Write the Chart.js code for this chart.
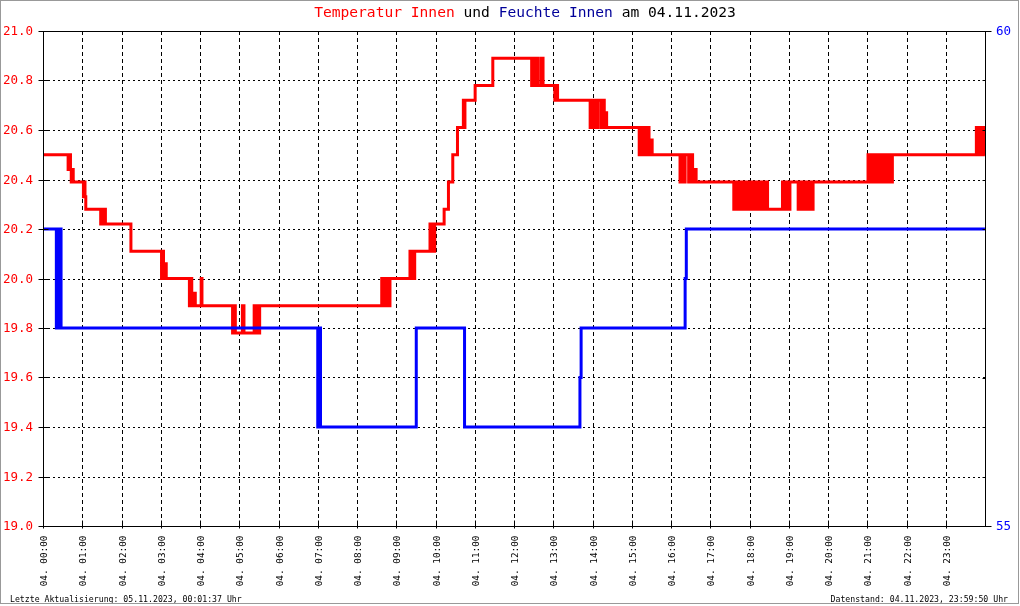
<!DOCTYPE html>
<html>
<head>
<meta charset="utf-8">
<script src="https://cdn.jsdelivr.net/npm/chart.js@4.4.1/dist/chart.umd.min.js"></script>
<style>
html,body{margin:0;padding:0;background:#fff;}
canvas{display:block;}
</style>
</head>
<body>
<canvas id="c" width="1020" height="606"></canvas>
<script>
// ---- Data (hours since 04.11.2023 00:00) ----
const tempHours = [
  0.00, 0.64, 0.67, 0.70, 0.72, 0.75, 0.77,
  1.03, 1.05, 1.07, 1.09,
  1.47, 1.50, 1.54, 1.57, 1.59,
  2.24,
  3.02, 3.05, 3.07, 3.10, 3.12, 3.14,
  3.73, 3.76, 3.79, 3.82, 3.85, 3.88, 4.03, 4.05,
  4.83, 4.87, 4.90, 5.08, 5.12, 5.38, 5.41, 5.44, 5.47, 5.52, 5.58,
  8.63, 8.66, 8.70, 8.73, 8.77, 8.80, 8.84,
  9.35, 9.38, 9.42, 9.45, 9.47,
  9.86, 9.88, 9.90, 9.96, 9.98,
  10.22, 10.33, 10.44, 10.56, 10.71, 10.73, 10.75, 11.01, 11.46,
  12.45, 12.48, 12.52, 12.58, 12.62, 12.70, 12.74,
  13.04, 13.07, 13.11,
  13.94, 13.97, 14.01, 14.05, 14.10, 14.14, 14.22, 14.26, 14.30, 14.33, 14.36,
  15.19, 15.23, 15.27, 15.31, 15.36, 15.40, 15.44, 15.48, 15.52,
  16.23, 16.27, 16.31, 16.36, 16.45, 16.50, 16.55, 16.60, 16.64,
  17.60, 17.63, 17.66, 17.70, 17.74, 17.78, 17.82, 17.86, 17.90, 17.95, 18.00, 18.04, 18.08, 18.12,
  18.19, 18.22, 18.27, 18.31, 18.36, 18.41, 18.46, 18.50,
  18.84, 18.88, 18.93, 18.98, 19.03,
  19.24, 19.29, 19.33, 19.39, 19.45, 19.51, 19.56, 19.62,
  21.02, 21.05, 21.09, 21.13, 21.17, 21.21, 21.26, 21.30, 21.34, 21.39, 21.44, 21.48, 21.53, 21.58, 21.64,
  23.78, 23.82, 23.86, 23.90, 23.94, 23.97, 23.998
];
const tempValues = [
  20.50, 20.44, 20.50, 20.44, 20.39, 20.44, 20.39,
  20.33, 20.39, 20.33, 20.28,
  20.22, 20.28, 20.22, 20.28, 20.22,
  20.11,
  20.00, 20.11, 20.06, 20.00, 20.06, 20.00,
  19.89, 20.00, 19.94, 19.89, 19.94, 19.89, 20.00, 19.89,
  19.78, 19.89, 19.78, 19.89, 19.78, 19.89, 19.78, 19.89, 19.78, 19.89, 19.89,
  20.00, 19.89, 20.00, 19.89, 20.00, 19.89, 20.00,
  20.11, 20.00, 20.11, 20.00, 20.11,
  20.22, 20.11, 20.22, 20.11, 20.22,
  20.28, 20.39, 20.50, 20.61, 20.72, 20.61, 20.72, 20.78, 20.89,
  20.78, 20.89, 20.78, 20.89, 20.78, 20.89, 20.78,
  20.72, 20.78, 20.72,
  20.61, 20.72, 20.61, 20.72, 20.61, 20.72, 20.61, 20.72, 20.61, 20.67, 20.61,
  20.50, 20.61, 20.50, 20.61, 20.50, 20.61, 20.50, 20.56, 20.50,
  20.39, 20.50, 20.39, 20.50, 20.39, 20.50, 20.39, 20.44, 20.39,
  20.28, 20.39, 20.28, 20.39, 20.28, 20.39, 20.28, 20.39, 20.28, 20.39, 20.28, 20.39, 20.28, 20.39,
  20.28, 20.39, 20.28, 20.39, 20.28, 20.39, 20.28, 20.28,
  20.39, 20.28, 20.39, 20.28, 20.39,
  20.28, 20.39, 20.28, 20.39, 20.28, 20.39, 20.28, 20.39,
  20.50, 20.39, 20.50, 20.39, 20.50, 20.39, 20.50, 20.39, 20.50, 20.39, 20.50, 20.39, 20.50, 20.39, 20.50,
  20.61, 20.50, 20.61, 20.50, 20.61, 20.50, 20.50
];
const humHours  = [0.00, 0.34, 0.37, 0.40, 0.43, 0.46, 7.00, 7.03, 7.07, 9.51, 10.74, 13.68, 13.71, 16.36, 16.39, 23.998];
const humValues = [58,   57,   58,   57,   58,   57,   56,   57,   56,   57,   56,    56.5,  57,    57.5,  58,    58];

const hourLabels = [
  "04. 00:00","04. 01:00","04. 02:00","04. 03:00","04. 04:00","04. 05:00",
  "04. 06:00","04. 07:00","04. 08:00","04. 09:00","04. 10:00","04. 11:00",
  "04. 12:00","04. 13:00","04. 14:00","04. 15:00","04. 16:00","04. 17:00",
  "04. 18:00","04. 19:00","04. 20:00","04. 21:00","04. 22:00","04. 23:00"
];
const tempTicks = [19.0, 19.2, 19.4, 19.6, 19.8, 20.0, 20.2, 20.4, 20.6, 20.8, 21.0];
const humTicks = [55, 55.5, 56, 56.5, 57, 57.5, 58, 58.5, 59, 59.5, 60];
const humLabelTicks = [55, 60];

const titleParts = [
  ["Temperatur Innen", "#ff0000"], [" und ", "#000000"],
  ["Feuchte Innen", "#000099"], [" am 04.11.2023", "#000000"]
];
const footerLeft = "Letzte Aktualisierung: 05.11.2023, 00:01:37 Uhr";
const footerRight = "Datenstand: 04.11.2023, 23:59:50 Uhr";

const tempPts = tempHours.map((h, i) => ({x: h, y: tempValues[i]}));
const humPts = humHours.map((h, i) => ({x: h, y: humValues[i]}));

const MONO = '"DejaVu Sans Mono", "Liberation Mono", monospace';

const framePlugin = {
  id: 'frame',
  beforeDatasetsDraw(chart) {
    const {ctx, chartArea: a, scales} = chart;
    const x = scales.x, yT = scales.yT;
    ctx.save();
    ctx.strokeStyle = '#000';
    ctx.lineWidth = 1;
    // horizontal dotted grid
    ctx.setLineDash([2, 3]);
    tempTicks.forEach(v => {
      if (v <= 19.0 || v >= 21.0) return;
      const y = Math.round(yT.getPixelForValue(v)) + 0.5;
      ctx.beginPath(); ctx.moveTo(a.left, y); ctx.lineTo(a.right, y); ctx.stroke();
    });
    // vertical dashed grid
    ctx.setLineDash([4, 3]);
    hourLabels.forEach((lab, h) => {
      if (h === 0) return;
      const px = Math.round(x.getPixelForValue(h)) + 0.5;
      ctx.beginPath(); ctx.moveTo(px, a.top); ctx.lineTo(px, a.bottom); ctx.stroke();
    });
    ctx.restore();
  },
  afterDatasetsDraw(chart) {
    const {ctx, chartArea: a, scales} = chart;
    const x = scales.x, yT = scales.yT, yH = scales.yH;
    const L = Math.round(a.left) + 0.5, R = Math.round(a.right) + 0.5;
    const T = Math.round(a.top) + 0.5, B = Math.round(a.bottom) + 0.5;
    ctx.save();
    ctx.strokeStyle = '#000';
    ctx.lineWidth = 1;
    ctx.setLineDash([]);
    ctx.beginPath();
    ctx.moveTo(L, T); ctx.lineTo(R, T); ctx.lineTo(R, B); ctx.lineTo(L, B); ctx.closePath();
    ctx.stroke();
    // left ticks + labels
    ctx.font = '12.5px ' + MONO;
    ctx.fillStyle = '#ff0000';
    ctx.textAlign = 'right';
    ctx.textBaseline = 'middle';
    tempTicks.forEach(v => {
      const y = Math.round(yT.getPixelForValue(v)) + 0.5;
      ctx.beginPath(); ctx.moveTo(L - 5, y); ctx.lineTo(L + 5, y); ctx.stroke();
      ctx.fillText(v.toFixed(1), 33, y);
    });
    // right ticks + labels
    humTicks.forEach(v => {
      const y = Math.round(yH.getPixelForValue(v)) + 0.5;
      ctx.beginPath();
      if (humLabelTicks.includes(v)) { ctx.moveTo(R - 5, y); ctx.lineTo(R + 6, y); }
      else { ctx.moveTo(R - 3, y); ctx.lineTo(R, y); }
      ctx.stroke();
    });
    ctx.fillStyle = '#0000ff';
    ctx.textAlign = 'left';
    ctx.font = '12.5px ' + MONO;
    humLabelTicks.forEach(v => {
      const y = Math.round(yH.getPixelForValue(v)) + 0.5;
      ctx.fillText(String(v), 996, y);
    });
    // x ticks + labels
    ctx.fillStyle = '#000';
    ctx.font = '9.4px ' + MONO;
    hourLabels.forEach((lab, h) => {
      const px = Math.round(x.getPixelForValue(h)) + 0.5;
      ctx.beginPath(); ctx.moveTo(px, B - 6); ctx.lineTo(px, B + 2); ctx.stroke();
      ctx.save();
      ctx.translate(px + 1.5, B + 9);
      ctx.rotate(-Math.PI / 2);
      ctx.textAlign = 'right';
      ctx.textBaseline = 'middle';
      ctx.fillText(lab, 0, 0);
      ctx.restore();
    });
    // title
    ctx.font = '14.6px ' + MONO;
    ctx.textBaseline = 'middle';
    ctx.textAlign = 'left';
    const full = titleParts.map(p => p[0]).join('');
    let tx = 525 - ctx.measureText(full).width / 2;
    titleParts.forEach(([s, c]) => {
      ctx.fillStyle = c;
      ctx.fillText(s, tx, 13.5);
      tx += ctx.measureText(s).width;
    });
    // footer
    ctx.font = '8.2px ' + MONO;
    ctx.fillStyle = '#000';
    ctx.textAlign = 'left';
    ctx.fillText(footerLeft, 10, 600);
    ctx.textAlign = 'right';
    ctx.fillText(footerRight, 1008, 600);
    // outer gray frame
    ctx.strokeStyle = '#999';
    ctx.strokeRect(0.5, 0.5, 1018, 603);
    ctx.restore();
  }
};

new Chart(document.getElementById('c').getContext('2d'), {
  type: 'line',
  data: {
    datasets: [
      {
        label: 'Feuchte Innen', data: humPts, yAxisID: 'yH',
        borderColor: '#0000ff', backgroundColor: '#0000ff', borderWidth: 3,
        stepped: true, pointRadius: 0, fill: false, order: 0,
        borderJoinStyle: 'miter', borderCapStyle: 'butt'
      },
      {
        label: 'Temperatur Innen', data: tempPts, yAxisID: 'yT',
        borderColor: '#ff0000', backgroundColor: '#ff0000', borderWidth: 3,
        stepped: true, pointRadius: 0, fill: false, order: 1,
        borderJoinStyle: 'miter', borderCapStyle: 'butt'
      }
    ]
  },
  options: {
    responsive: false,
    animation: false,
    events: [],
    layout: { padding: { left: 43, top: 31, right: 35, bottom: 80 } },
    plugins: { legend: { display: false }, tooltip: { enabled: false }, title: { display: false } },
    scales: {
      x: { type: 'linear', min: 0, max: 24, display: false },
      yT: { type: 'linear', position: 'left', min: 19, max: 21, display: false },
      yH: { type: 'linear', position: 'right', min: 55, max: 60, display: false }
    }
  },
  plugins: [framePlugin]
});
</script>
</body>
</html>
